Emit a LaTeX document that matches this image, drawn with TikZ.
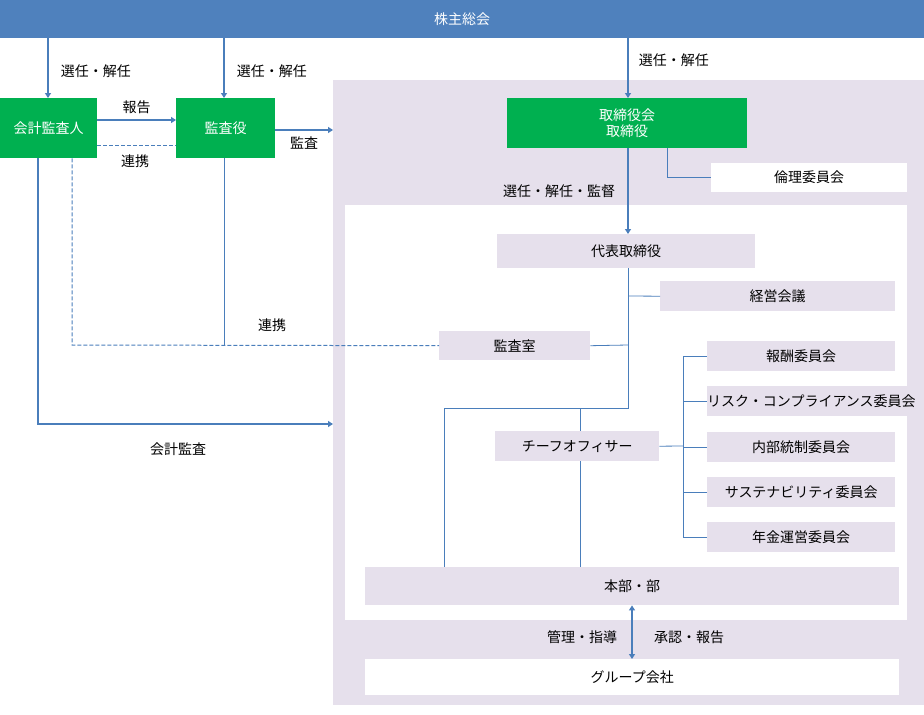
\documentclass[tikz,border=0pt]{standalone}
\usepackage{fontspec}
\setmainfont{Noto Sans CJK JP}
\usetikzlibrary{arrows.meta}
\definecolor{bl}{HTML}{4F81BD}
\definecolor{ln}{HTML}{4A7EBB}
\definecolor{gr}{HTML}{00B050}
\definecolor{lav}{HTML}{E6E0EC}
\begin{document}
\begin{tikzpicture}[x=1pt,y=-1pt,
  every node/.style={font=\fontsize{14}{17}\selectfont,inner sep=0pt},
  box/.style={draw=none,minimum width=#1,minimum height=30,anchor=north west},
  gbox/.style={fill=gr,text=white,align=center},
  lbox/.style={fill=lav},
  wbox/.style={fill=white},
  arr/.style={draw=ln,line width=1.6pt,-{Triangle[length=5pt,width=6pt]}},
  thin/.style={draw=ln,line width=0.8pt},
  dsh/.style={draw=ln,line width=1pt,dash pattern=on 4pt off 2pt}]
\useasboundingbox (0,0) rectangle (924,715);
\fill[lav] (333,80) rectangle (924,705);
\fill[white] (345,205) rectangle (907,620);
\node[fill=bl,text=white,minimum width=924,minimum height=38,anchor=north west] (top) at (0,0) {株主総会};
\node[box=97,minimum height=60,gbox] (ka) at (0,98) {会計監査人};
\node[box=99,minimum height=60,gbox] (ks) at (176,98) {監査役};
\node[box=240,minimum height=50,gbox,font=\fontsize{14}{16}\selectfont] (tr) at (507,98) {取締役会\\取締役};
\node[box=196,minimum height=29,wbox] (rr) at (711,163) {倫理委員会};
\node[box=258,minimum height=34,lbox] (dh) at (497,234) {代表取締役};
\node[box=235,lbox] (kk) at (660,281) {経営会議};
\node[box=151,minimum height=29,lbox] (ksh) at (439,331) {監査室};
\node[box=188,lbox] (c1) at (707,341) {報酬委員会};
\node[box=188,lbox] (c2) at (707,386) {リスク・コンプライアンス委員会};
\node[box=188,lbox] (c3) at (707,432) {内部統制委員会};
\node[box=188,lbox] (c4) at (707,477) {サステナビリティ委員会};
\node[box=188,lbox] (c5) at (707,522) {年金運営委員会};
\node[box=164,lbox] (co) at (495,431) {チーフオフィサー};
\node[box=534,minimum height=38,lbox] (hb) at (365,567) {本部・部};
\node[box=534,minimum height=36,wbox] (gk) at (365,659) {グループ会社};
\coordinate (bigL) at (333,130);
\coordinate (bigL2) at (333,424);
% arrows from top
\draw[arr] (top.south -| 48,0) -- (ka.north -| 48,0) node[pos=0.55,right=12pt]{選任・解任};
\draw[arr] (top.south -| 224,0) -- (ks.north -| 224,0) node[pos=0.55,right=12pt]{選任・解任};
\draw[arr] (top.south -| 628,0) -- (tr.north -| 628,0) node[pos=0.37,right=10pt]{選任・解任};
\draw[arr] (ka.east |- 0,120) -- (ks.west |- 0,120) node[midway,above=5pt]{報告};
\draw[dsh] (ka.east |- 0,145) -- (ks.west |- 0,145);
\node at (135,161) {連携};
\draw[arr] (ks.east |- 0,130) -- (bigL) node[midway,below=6pt]{監査};
\draw[arr] (tr.south -| 628,0) -- (dh.north -| 628,0) node[midway,left=12pt]{選任・解任・監督};
\draw[thin] (tr.south -| 667,0) |- (rr.west);
% internal lines
\draw[thin] (dh.south -| 628,0) -- (628,408) -| (444,567);
\draw[thin] (628,296) -- (kk.west);
\draw[thin] (ksh.east) -- (628,345);
\draw[thin] (580,408) -- (co.north -| 580,0);
\draw[thin] (co.south -| 580,0) -- (hb.north -| 580,0);
\draw[thin] (co.east) -- (683,446);
\draw[thin] (683,356) -- (683,537);
\foreach \c in {c1,c2,c3,c4,c5} \draw[thin] (683,0 |- \c.west) -- (\c.west);
% dashed 連携
\draw[dsh] (ka.south -| 72,0) -- (72,345) -- (ksh.west);
\draw[thin] (ks.south -| 224,0) -- (224,345);
\node at (272,325) {連携};
\draw[arr] (ka.south -| 38,0) -- (38,424) -- (bigL2);
\node at (178,449) {会計監査};
\draw[draw=ln,line width=1.2pt,{Triangle[length=5pt,width=6pt]}-{Triangle[length=5pt,width=6pt]}] (hb.south -| 632,0) -- (gk.north -| 632,0);
\node at (582,637) {管理・指導};
\node at (689,637) {承認・報告};
\end{tikzpicture}
\end{document}
